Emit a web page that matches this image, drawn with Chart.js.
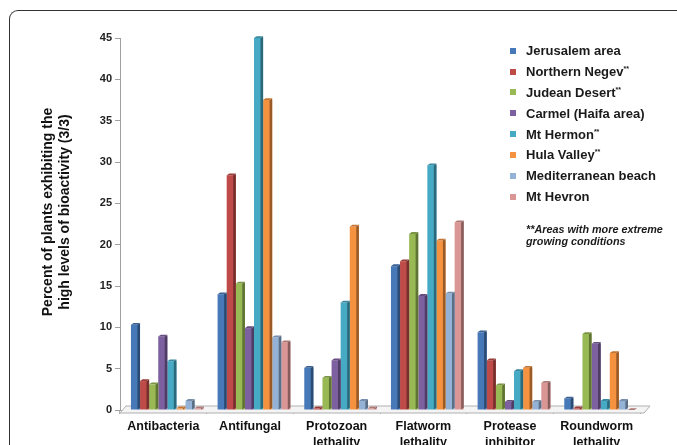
<!DOCTYPE html>
<html><head><meta charset="utf-8">
<script src="https://cdn.jsdelivr.net/npm/chart.js@4.4.0/dist/chart.umd.min.js"></script>
<style>
html,body{margin:0;padding:0;background:#fff;width:677px;height:445px;overflow:hidden;font-family:"Liberation Sans",Arial,sans-serif;}
#frame{position:absolute;left:9px;top:10px;width:720px;height:480px;border-top:1px solid #333;border-left:1px solid #333;border-top-left-radius:9px;}
#c{position:absolute;left:0;top:0;}
#legend{position:absolute;left:0;top:0;width:677px;height:445px;pointer-events:none;}
.row{position:absolute;white-space:nowrap;font:bold 13px "Liberation Sans",Arial,sans-serif;color:#1a1a1a;line-height:15px;}
.sw{position:absolute;width:6px;height:6px;}
.row sup{font-size:7px;vertical-align:5px;line-height:0;}
.note{position:absolute;left:526px;top:224px;font:italic bold 10.8px "Liberation Sans",Arial,sans-serif;color:#1a1a1a;line-height:11.5px;}
</style></head>
<body>
<div id="frame"></div>
<canvas id="c" width="677" height="445"></canvas>
<div id="legend"></div>
<script>
const categories = [['Antibacteria'], ['Antifungal'], ['Protozoan', 'lethality'], ['Flatworm', 'lethality'], ['Protease', 'inhibitor'], ['Roundworm', 'lethality']];
const seriesNames = ['Jerusalem area', 'Northern Negev', 'Judean Desert', 'Carmel (Haifa area)', 'Mt Hermon', 'Hula Valley', 'Mediterranean beach', 'Mt Hevron'];
const extremeAreas = [false, true, true, false, true, true, false, false];
const seriesColors = ['#4779B9', '#BE4B48', '#98B954', '#7D60A0', '#46AAC5', '#F59240', '#94B2D6', '#D99694'];

const jerusalem     = [10.3, 14.0, 5.1, 17.4, 9.4, 1.4];
const northernNegev = [3.5, 28.4, 0.2, 18.0, 6.0, 0.2];
const judeanDesert  = [3.1, 15.3, 3.9, 21.3, 3.0, 9.2];
const carmel        = [8.9, 9.9, 6.0, 13.8, 1.0, 8.0];
const mtHermon      = [5.9, 45.0, 13.0, 29.6, 4.7, 1.1];
const hulaValley    = [0.2, 37.5, 22.2, 20.5, 5.1, 6.9];
const medBeach      = [1.1, 8.8, 1.1, 14.1, 1.0, 1.1];
const mtHevron      = [0.2, 8.2, 0.2, 22.7, 3.3, 0];

const yTicks = [0, 5, 10, 15, 20, 25, 30, 35, 40, 45];
const yTitle = ['Percent of plants exhibiting the', 'high levels of bioactivity (3/3)'];
const noteText = ['**Areas with more extreme', 'growing conditions'];

const seriesValues = [jerusalem, northernNegev, judeanDesert, carmel, mtHermon, hulaValley, medBeach, mtHevron];

function shade(hex, f) {
  const n = parseInt(hex.slice(1), 16);
  const r = Math.round(((n >> 16) & 255) * f), g = Math.round(((n >> 8) & 255) * f), b = Math.round((n & 255) * f);
  return 'rgb(' + r + ',' + g + ',' + b + ')';
}

const FONT = '"Liberation Sans", Arial, sans-serif';

const bar3d = {
  id: 'bar3d',
  beforeDatasetsDraw(chart) {
    const {ctx, chartArea: a} = chart;
    ctx.save();
    ctx.beginPath();
    ctx.moveTo(a.left, a.bottom + 3);
    ctx.lineTo(a.left + 6, a.bottom - 4);
    ctx.lineTo(a.right + 10, a.bottom - 4);
    ctx.lineTo(a.right + 4, a.bottom + 3);
    ctx.closePath();
    ctx.fillStyle = '#f4f4f4';
    ctx.fill();
    ctx.strokeStyle = '#b0b0b0';
    ctx.lineWidth = 1;
    ctx.stroke();
    ctx.restore();
    ctx.save();
    ctx.translate(4, 0);
  },
  afterDatasetsDraw(chart) {
    const ctx = chart.ctx;
    const d = 2.6, h = 1.8;
    chart.getSortedVisibleDatasetMetas().forEach(meta => {
      const col = seriesColors[meta.index];
      meta.data.forEach(el => {
        const {x, y, base, width} = el.getProps(['x', 'y', 'base', 'width'], true);
        const l = x - width / 2, r = x + width / 2;
        ctx.beginPath();
        ctx.moveTo(r - d, y);
        ctx.lineTo(r, y - h);
        ctx.lineTo(r, base - h);
        ctx.lineTo(r - d, base);
        ctx.closePath();
        ctx.fillStyle = shade(col, 0.62);
        ctx.fill();
        ctx.beginPath();
        ctx.moveTo(l, y);
        ctx.lineTo(l + d, y - h);
        ctx.lineTo(r, y - h);
        ctx.lineTo(r - d, y);
        ctx.closePath();
        ctx.fillStyle = shade(col, 0.8);
        ctx.fill();
      });
    });
    ctx.restore();
  }
};

const yTitlePlugin = {
  id: 'yTitlePlugin',
  afterDraw(chart) {
    const ctx = chart.ctx;
    ctx.save();
    ctx.translate(48, 212);
    ctx.rotate(-Math.PI / 2);
    ctx.font = 'bold 14px ' + FONT;
    ctx.fillStyle = '#111';
    ctx.textAlign = 'center';
    ctx.textBaseline = 'middle';
    yTitle.forEach((t, i) => ctx.fillText(t, 0, i * 17));
    ctx.restore();
  }
};

new Chart(document.getElementById('c'), {
  type: 'bar',
  data: {
    labels: categories,
    datasets: seriesNames.map((name, i) => ({
      label: name,
      data: seriesValues[i],
      backgroundColor: seriesColors[i],
      borderWidth: 0,
      categoryPercentage: 0.84,
      barPercentage: 1
    }))
  },
  options: {
    responsive: false,
    animation: false,
    layout: {padding: {left: 36, top: 38, right: 37, bottom: 0}},
    plugins: {legend: {display: false}, tooltip: {enabled: false}},
    scales: {
      x: {
        grid: {display: true, drawOnChartArea: false, drawTicks: true, tickLength: 4, color: '#b0b0b0', offset: true},
        border: {display: true, color: '#b0b0b0'},
        ticks: {font: {family: FONT, size: 12.5, weight: 'bold', lineHeight: 1.3}, color: '#111', padding: 4, maxRotation: 0, autoSkip: false},
        afterFit: s => { s.height = 35; }
      },
      y: {
        min: yTicks[0], max: yTicks[yTicks.length - 1],
        afterBuildTicks: s => { s.ticks = yTicks.map(v => ({value: v})); },
        ticks: {font: {family: FONT, size: 11, weight: 'bold'}, color: '#222', padding: 3},
        grid: {display: true, drawOnChartArea: false, drawTicks: true, tickLength: 5, color: '#a0a0a0'},
        border: {display: true, color: '#a0a0a0'},
        title: {display: false},
        afterFit: s => { s.width = 84; }
      }
    }
  },
  plugins: [bar3d, yTitlePlugin]
});

const leg = document.getElementById('legend');
seriesNames.forEach((name, i) => {
  const cy = 50.7 + i * 20.85;
  const sw = document.createElement('div');
  sw.className = 'sw';
  sw.style.left = '510px';
  sw.style.top = (cy - 3) + 'px';
  sw.style.background = seriesColors[i];
  leg.appendChild(sw);
  const row = document.createElement('div');
  row.className = 'row';
  row.style.left = '526px';
  row.style.top = (cy - 7.5) + 'px';
  row.textContent = name;
  if (extremeAreas[i]) {
    const s = document.createElement('sup');
    s.textContent = '**';
    row.appendChild(s);
  }
  leg.appendChild(row);
});
const note = document.createElement('div');
note.className = 'note';
note.innerHTML = noteText.join('<br>');
leg.appendChild(note);
</script>
</body></html>
